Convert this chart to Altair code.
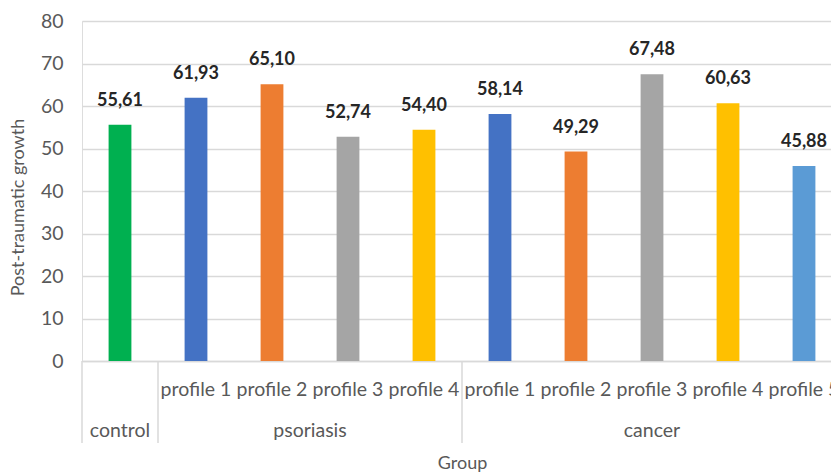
import altair as alt
import pandas as pd

# ---- data ----
groups = ["control", "psoriasis", "psoriasis", "psoriasis", "psoriasis",
          "cancer", "cancer", "cancer", "cancer", "cancer"]
profiles = ["", "profile 1", "profile 2", "profile 3", "profile 4",
            "profile 1", "profile 2", "profile 3", "profile 4", "profile 5"]
values = [55.61, 61.93, 65.10, 52.74, 54.40, 58.14, 49.29, 67.48, 60.63, 45.88]

color_keys = ["control", "profile 1", "profile 2", "profile 3", "profile 4", "profile 5"]
color_vals = ["#00B050", "#4472C4", "#ED7D31", "#A5A5A5", "#FFC000", "#5B9BD5"]

keys = [f"{g}|{p}" for g, p in zip(groups, profiles)]
df = pd.DataFrame({
    "key": keys,
    "group": groups,
    "profile": profiles,
    "value": values,
    "ckey": [p if p else g for g, p in zip(groups, profiles)],
})

# group label anchors (center of each group's span)
group_order = []
for g in groups:
    if g not in group_order:
        group_order.append(g)
even_rows, odd_rows, sep_rows = [], [], []
for g in group_order:
    members = [k for k, gg in zip(keys, groups) if gg == g]
    n = len(members)
    sep_rows.append({"key": members[0]})
    if n % 2 == 0:
        even_rows.append({"key": members[n // 2], "group": g})
    else:
        odd_rows.append({"key": members[n // 2], "group": g})

W, H = 749, 340
FONT = "Lato"
GREY = "#595959"
LBL = 19.5

xscale = alt.Scale(domain=keys, range=[0, 760], paddingInner=0, paddingOuter=0)

base = alt.Chart(df)

bars = base.mark_bar(width=alt.RelativeBandSize(0.3)).encode(
    x=alt.X("key:N", scale=xscale, sort=None,
            axis=alt.Axis(title="Group", labelExpr="split(datum.label, '|')[1]",
                          labelAngle=0, labelFontSize=LBL, labelColor=GREY,
                          labelPadding=19, ticks=False, domainColor="#d9d9d9",
                          domainWidth=1.5, titleFontSize=18, titleFontWeight="normal",
                          titleColor=GREY, titleX=380, titleY=102,
                          titleBaseline="middle", labelFont=FONT, titleFont=FONT)),
    y=alt.Y("value:Q", scale=alt.Scale(domain=[0, 80], nice=False),
            axis=alt.Axis(values=list(range(0, 81, 10)), title="Post-traumatic growth",
                          domain=False, ticks=False, gridColor="#d9d9d9", gridWidth=1.5,
                          labelFontSize=LBL, labelColor=GREY, labelPadding=19,
                          titleFontSize=18, titleFontWeight="normal", titleColor=GREY,
                          titleX=-64, titleY=186, titleAlign="center",
                          titleBaseline="middle", labelFont=FONT, titleFont=FONT)),
    color=alt.Color("ckey:N", scale=alt.Scale(domain=color_keys, range=color_vals),
                    legend=None),
)

labels = base.transform_calculate(
    lab="replace(format(datum.value, '.2f'), '.', ',')"
).mark_text(baseline="bottom", dy=-15, fontSize=18, fontWeight="bold",
            font=FONT, color="#262626").encode(
    x=alt.X("key:N", scale=xscale, sort=None),
    y=alt.Y("value:Q"),
    text="lab:N",
)

seps = alt.Chart(pd.DataFrame(sep_rows)).mark_rule(color="#d9d9d9", strokeWidth=1.5).encode(
    x=alt.X("key:N", scale=xscale, sort=None, bandPosition=0),
    y=alt.value(H),
    y2=alt.value(H + 82),
)

glab_even = alt.Chart(pd.DataFrame(even_rows)).mark_text(
    fontSize=LBL, font=FONT, color=GREY, baseline="middle").encode(
    x=alt.X("key:N", scale=xscale, sort=None, bandPosition=0),
    y=alt.value(H + 70),
    text="group:N",
)
glab_odd = alt.Chart(pd.DataFrame(odd_rows)).mark_text(
    fontSize=LBL, font=FONT, color=GREY, baseline="middle").encode(
    x=alt.X("key:N", scale=xscale, sort=None, bandPosition=0.5),
    y=alt.value(H + 70),
    text="group:N",
)

chart = alt.layer(bars, labels, seps, glab_even, glab_odd).properties(
    width=W, height=H,
    autosize=alt.AutoSizeParams(type="none"),
    padding={"left": 82, "top": 21, "right": 0, "bottom": 111},
).configure_view(stroke=None).configure(font=FONT)

chart.save("out.html", embed_options={"renderer": "svg", "actions": False})
